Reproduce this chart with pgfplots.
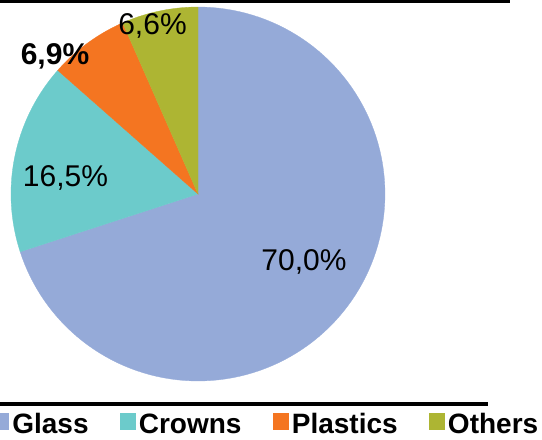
\documentclass[border=0pt]{standalone}
\usepackage{fontspec}
\setmainfont{Liberation Sans}
\usepackage{pgfplots}
\pgfplotsset{compat=1.18}
\definecolor{cglass}{RGB}{149,170,216}
\definecolor{ccrowns}{RGB}{108,203,203}
\definecolor{cplastics}{RGB}{244,117,33}
\definecolor{cothers}{RGB}{173,181,51}
% shares in percent
\def\vGlass{70.0}
\def\vCrowns{16.5}
\def\vPlastics{6.9}
\def\vOthers{6.6}
\pgfmathsetmacro\aA{90}
\pgfmathsetmacro\aB{\aA-3.6*\vGlass}
\pgfmathsetmacro\aC{\aB-3.6*\vCrowns}
\pgfmathsetmacro\aD{\aC-3.6*\vPlastics}
\pgfmathsetmacro\aE{\aD-3.6*\vOthers}
\def\cx{198}\def\cy{246}\def\rr{187}
\begin{document}
\begin{tikzpicture}
\useasboundingbox (0,0) rectangle (542pt,440pt);
\begin{axis}[
  at={(0,0)}, anchor=south west,
  scale only axis, width=542pt, height=440pt,
  xmin=0, xmax=542, ymin=0, ymax=440,
  hide axis, clip=false,
  legend columns=4,
  legend image code/.code={\fill[#1] (0pt,{-0.33em-2pt}) rectangle (15pt,{-0.33em+14pt});},
  legend style={at={(axis cs:-7,5)}, anchor=south west, draw=none, fill=none,
    inner sep=0pt, outer sep=0pt,
    font=\fontsize{28}{28}\selectfont\bfseries,
    nodes={inner xsep=4pt, inner ysep=0pt},
    /tikz/every even column/.append style={column sep=27pt}},
]
\addplot[fill=cglass, draw=cglass, line width=0.3pt, domain=\aB:\aA, samples=120, variable=\t]
  ({\cx+\rr*cos(\t)},{\cy+\rr*sin(\t)}) -- (\cx,\cy) -- cycle;
\addlegendentry{Glass}
\addplot[fill=ccrowns, draw=ccrowns, line width=0.3pt, domain=\aC:\aB, samples=40, variable=\t]
  ({\cx+\rr*cos(\t)},{\cy+\rr*sin(\t)}) -- (\cx,\cy) -- cycle;
\addlegendentry{Crowns}
\addplot[fill=cplastics, draw=cplastics, line width=0.3pt, domain=\aD:\aC, samples=20, variable=\t]
  ({\cx+\rr*cos(\t)},{\cy+\rr*sin(\t)}) -- (\cx,\cy) -- cycle;
\addlegendentry{Plastics}
\addplot[fill=cothers, draw=cothers, line width=0.3pt, domain=\aE:\aD, samples=20, variable=\t]
  ({\cx+\rr*cos(\t)},{\cy+\rr*sin(\t)}) -- (\cx,\cy) -- cycle;
\addlegendentry{Others}
\addplot[black, line width=3pt, forget plot] coordinates {(0,438.5) (510,438.5)};
\addplot[black, line width=3.5pt, forget plot] coordinates {(0,36) (488,36)};
\node[anchor=base, font=\fontsize{30}{30}\selectfont] at (axis cs:304,169) {70,0\%};
\node[anchor=base, font=\fontsize{30}{30}\selectfont] at (axis cs:65.5,253) {16,5\%};
\node[anchor=base, font=\fontsize{30}{30}\selectfont\bfseries] at (axis cs:55,375) {6,9\%};
\node[anchor=base, font=\fontsize{30}{30}\selectfont] at (axis cs:152.5,405) {6,6\%};
\end{axis}
\end{tikzpicture}
\end{document}
